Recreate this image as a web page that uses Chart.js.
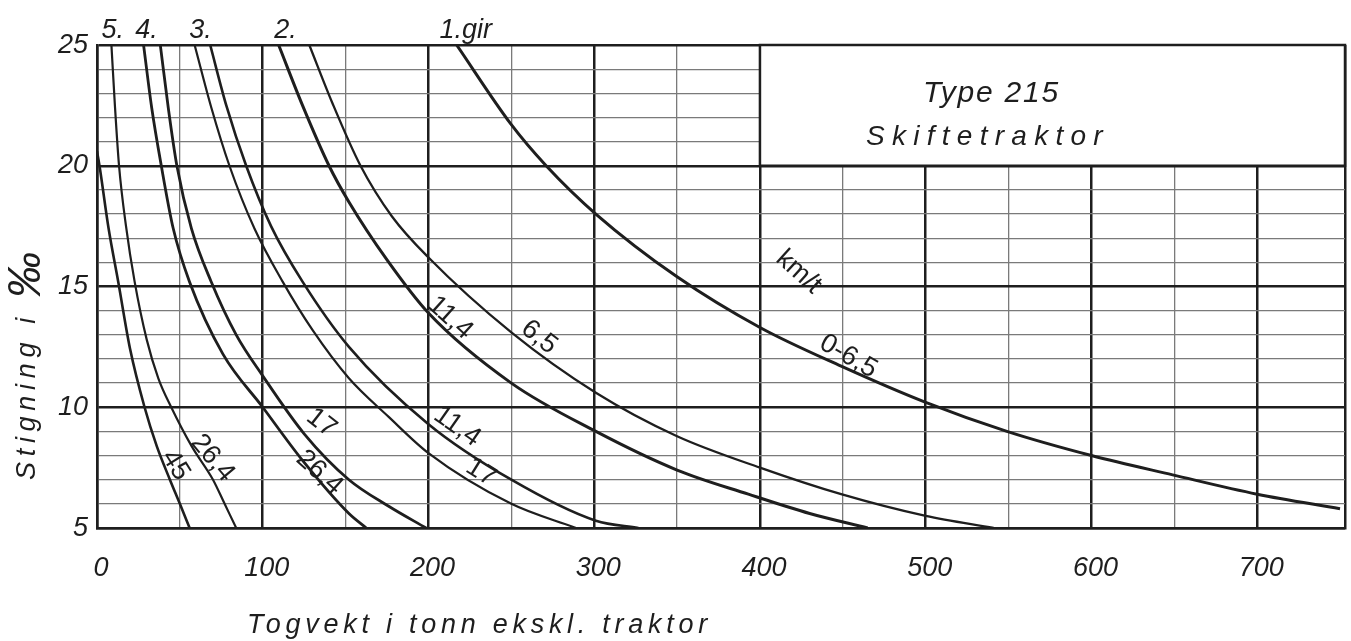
<!DOCTYPE html>
<html>
<head>
<meta charset="utf-8">
<title>Type 215 Skiftetraktor</title>
<script src="https://cdn.jsdelivr.net/npm/chart.js@4.4.1/dist/chart.umd.min.js"></script>
<style>
  html, body { margin: 0; padding: 0; background: #fff; }
  #wrap { position: relative; width: 1351px; height: 641px; }
</style>
</head>
<body>
<div id="wrap"><canvas id="chart"></canvas></div>
<script>
// [togvekt i tonn, stigning i promille]
const gir5_45 = [[0, 20.6], [1.5, 20], [7, 17.4], [12.8, 15.2], [20, 12.4], [28.7, 10], [36, 8.4], [44, 7], [50, 6], [55.9, 5]];
const gir5_264 = [[8.7, 25], [10.8, 22.5], [13.3, 20], [17.5, 17.5], [22.7, 15.2], [30, 12.8], [37, 11.2], [44.8, 10], [57, 8.4], [70, 7], [77, 6], [84, 5]];
const gir4_264 = [[28.1, 25], [33, 22.4], [38.8, 20], [46, 17.4], [55.8, 15.2], [76, 12.2], [100, 10], [124, 7.8], [152, 5.6], [162.5, 5]];
const gir4_17 = [[38.2, 25], [43, 22.4], [48.2, 20], [57, 17.4], [68.9, 15.2], [84, 13], [100, 11.3], [125, 8.9], [152, 7], [176, 5.9], [198.6, 5]];
const gir3_17 = [[58.9, 25], [69, 22.4], [79.9, 20], [95, 17.4], [112, 15.2], [130, 13.2], [152, 11.2], [176, 9.6], [200, 8.1], [250, 6], [289, 5]];
const gir3_114 = [[68.3, 25], [78, 22.5], [90, 20], [105, 17.5], [124, 15.2], [152, 12.5], [200, 9.3], [250, 7], [301, 5.3], [326.7, 5]];
const gir2_114 = [[109.6, 25], [124, 22.5], [140, 20], [152, 18.5], [175, 16.1], [200, 13.9], [250, 11], [301, 9], [350, 7.4], [393, 6.4], [430, 5.6], [465, 5]];
const gir2_65 = [[128.1, 25], [142, 22.6], [159, 20], [178, 17.9], [200, 16.2], [250, 13.1], [301, 10.6], [350, 8.8], [400, 7.5], [449, 6.4], [500, 5.5], [541, 5]];
const gir1_065 = [[217, 25], [250, 21.7], [271, 20], [301, 18], [350, 15.4], [400, 13.3], [449, 11.7], [500, 10.2], [549, 9], [600, 8], [649, 7.2], [700, 6.4], [750, 5.8]];

const xLabels = [0, 100, 200, 300, 400, 500, 600, 700];
const yLabels = [5, 10, 15, 20, 25];
const gears = ['5.', '4.', '3.', '2.', '1.gir'];

const ink = '#1e1e1e';
const minorInk = '#7a7a7a';
const font = '"Liberation Sans", Arial, sans-serif';

const curves = [
  { pts: gir5_45, w: 2.6 },
  { pts: gir5_264, w: 2.2 },
  { pts: gir4_264, w: 2.8 },
  { pts: gir4_17, w: 2.8 },
  { pts: gir3_17, w: 2.2 },
  { pts: gir3_114, w: 2.6 },
  { pts: gir2_114, w: 3 },
  { pts: gir2_65, w: 2.3 },
  { pts: gir1_065, w: 3 },
];

// where the gear numbers and speed marks sit (data units)
const gearPos = [9.5, 29.9, 62.5, 113.7, 206.6];
const speedMarks = [
  { text: '45', x: 47.4, y: 7.6, rot: 58 },
  { text: '26,4', x: 69.7, y: 7.9, rot: 50 },
  { text: '17', x: 135.4, y: 9.35, rot: 38 },
  { text: '26,4', x: 134.2, y: 7.3, rot: 42 },
  { text: '11,4', x: 217.3, y: 9.2, rot: 35 },
  { text: '17', x: 231.7, y: 7.3, rot: 32 },
  { text: '11,4', x: 213.1, y: 13.7, rot: 42 },
  { text: '6,5', x: 266.7, y: 12.9, rot: 38 },
  { text: 'km/t', x: 423.3, y: 15.6, rot: 42 },
  { text: '0-6,5', x: 453.4, y: 12.1, rot: 30 },
];

function spacedText(ctx, text, x, y, width) {
  ctx.letterSpacing = '0px';
  const w = ctx.measureText(text).width;
  const extra = Math.max(0, (width - w) / text.length);
  ctx.letterSpacing = extra + 'px';
  ctx.fillText(text, x, y);
  ctx.letterSpacing = '0px';
}

const overlay = {
  id: 'overlay',
  beforeDatasetsDraw(chart) {
    const { ctx, scales: { x, y } } = chart;
    const l = x.getPixelForValue(400), r = x.getPixelForValue(x.max);
    const t = y.getPixelForValue(25), b = y.getPixelForValue(20);
    ctx.save();
    ctx.fillStyle = '#fff';
    ctx.fillRect(l, t, r - l, b - t);
    ctx.strokeStyle = ink;
    ctx.lineWidth = 2.5;
    ctx.strokeRect(l, t, r - l, b - t);
    ctx.fillStyle = ink;
    ctx.textAlign = 'left';
    ctx.textBaseline = 'alphabetic';
    ctx.font = 'italic 30px ' + font;
    spacedText(ctx, 'Type 215', l + 163, t + 57, 137);
    ctx.font = 'italic 28px ' + font;
    spacedText(ctx, 'Skiftetraktor', l + 106, t + 100, 244);
    ctx.restore();
  },
  afterDraw(chart) {
    const { ctx, scales: { x, y }, chartArea } = chart;
    ctx.save();
    ctx.fillStyle = ink;
    ctx.textBaseline = 'alphabetic';
    ctx.font = 'italic 27px ' + font;
    gears.forEach((g, i) => {
      ctx.textAlign = i === gears.length - 1 ? 'left' : 'center';
      ctx.fillText(g, x.getPixelForValue(gearPos[i]), chartArea.top - 7);
    });

    ctx.font = '27px ' + font;
    ctx.textAlign = 'center';
    ctx.textBaseline = 'middle';
    speedMarks.forEach(m => {
      ctx.save();
      ctx.translate(x.getPixelForValue(m.x), y.getPixelForValue(m.y));
      ctx.rotate(m.rot * Math.PI / 180);
      ctx.fillText(m.text, 0, 0);
      ctx.restore();
    });

    // axis titles
    ctx.font = 'italic 27px ' + font;
    ctx.textAlign = 'left';
    spacedText(ctx, 'Togvekt i tonn ekskl. traktor', 247, 625, 465);
    ctx.translate(27, 480);
    ctx.rotate(-Math.PI / 2);
    spacedText(ctx, 'Stigning i', 0, 0, 168);
    ctx.font = 'italic 46px ' + font;
    ctx.fillText('‰', 182, 0);
    ctx.restore();
  }
};

new Chart(document.getElementById('chart'), {
  type: 'scatter',
  data: {
    datasets: curves.map(c => ({
      data: c.pts.map(([px, py]) => ({ x: px, y: py })),
      showLine: true,
      borderColor: ink,
      borderWidth: c.w,
      pointRadius: 0,
      cubicInterpolationMode: 'monotone',
      fill: false
    }))
  },
  options: {
    responsive: true,
    maintainAspectRatio: false,
    animation: false,
    layout: { padding: { left: 0, top: 45, right: 6, bottom: 0 } },
    plugins: { legend: { display: false }, tooltip: { enabled: false } },
    scales: {
      x: {
        type: 'linear',
        min: 0,
        max: 753,
        afterFit: s => { s.height = 113; s.paddingLeft = 0; s.paddingRight = 0; },
        ticks: {
          stepSize: 50,
          padding: 24,
          labelOffset: 4,
          maxRotation: 0,
          autoSkip: false,
          color: ink,
          font: { family: font, size: 27, style: 'italic' },
          callback: v => xLabels.includes(v) ? String(v) : ''
        },
        grid: {
          drawTicks: false,
          color: c => {
            const v = c.tick.value;
            if (v % 100 === 0) return ink;
            if (v % 50 === 0) return v >= 750 ? 'transparent' : minorInk;
            return ink;
          },
          lineWidth: c => (c.tick.value % 50 === 0 && c.tick.value % 100 !== 0) ? 1.3 : 2.5
        },
        border: { display: true, color: ink, width: 2.5 }
      },
      y: {
        type: 'linear',
        min: 5,
        max: 25,
        afterFit: s => { s.width = 97; s.paddingTop = 0; s.paddingBottom = 0; },
        ticks: {
          stepSize: 1,
          padding: 9,
          autoSkip: false,
          color: ink,
          font: { family: font, size: 27, style: 'italic' },
          callback: v => yLabels.includes(v) ? String(v) : ''
        },
        grid: {
          drawTicks: false,
          color: c => c.tick.value % 5 === 0 ? ink : minorInk,
          lineWidth: c => c.tick.value % 5 === 0 ? 2.5 : 1.3
        },
        border: { display: true, color: ink, width: 2.5 }
      }
    }
  },
  plugins: [overlay]
});
</script>
</body>
</html>
